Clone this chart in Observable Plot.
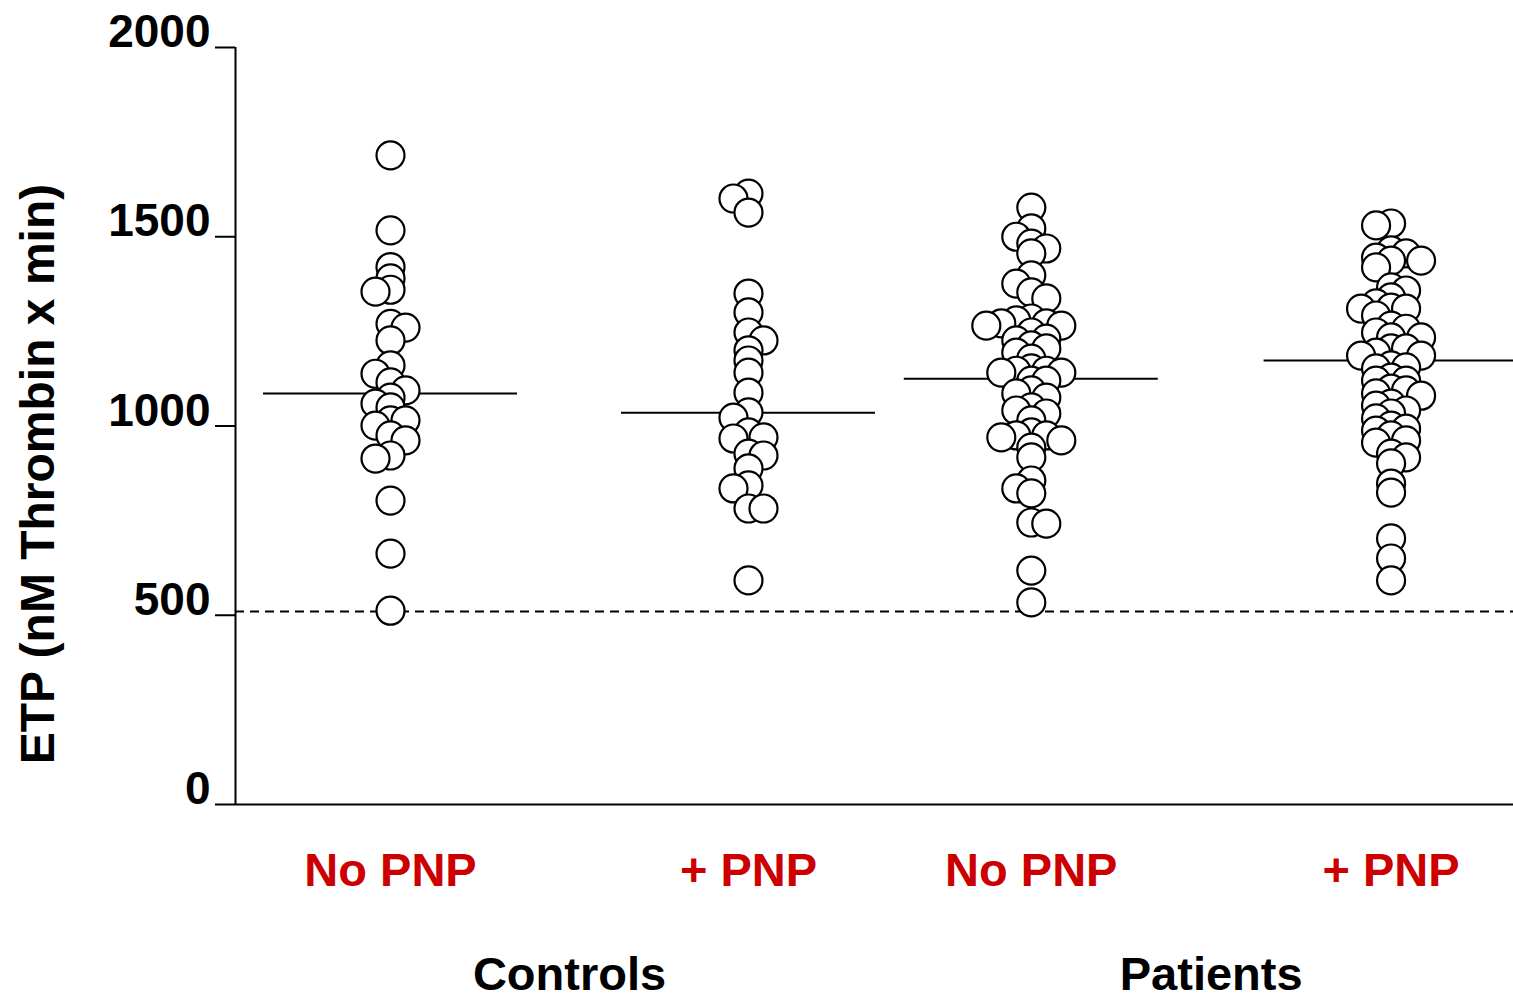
<!DOCTYPE html>
<html>
<head>
<meta charset="utf-8">
<script src="https://cdn.jsdelivr.net/npm/d3@7"></script>
<script src="https://cdn.jsdelivr.net/npm/@observablehq/plot@0.6"></script>
<style>
  html, body { margin: 0; padding: 0; background: #fff; }
</style>
</head>
<body>
<div id="chart"></div>
<script>
// ---- Data ----
const groupNames = ["Controls", "Controls", "Patients", "Patients"];
const conditionLabels = ["No PNP", "+ PNP", "No PNP", "+ PNP"];
const groupPositions = [1, 2, 2.79, 3.795];
const meanValues = [1086, 1035, 1125, 1173];
const referenceLine = 510;
const yTicks = [0, 500, 1000, 1500, 2000];

const controlsNoPNP = [1715, 1517, 1420, 1390, 1360, 1355, 1270, 1260, 1226, 1160, 1138, 1115, 1094, 1075, 1059, 1049, 1015, 1015, 1001, 975, 962, 922, 914, 803, 663, 512];
const controlsPNP = [1614, 1601, 1564, 1350, 1300, 1247, 1226, 1200, 1173, 1141, 1088, 1036, 1022, 983, 970, 967, 927, 922, 888, 843, 835, 782, 782, 592];
const patientsNoPNP = [1577, 1522, 1500, 1482, 1469, 1456, 1398, 1376, 1353, 1337, 1284, 1279, 1271, 1271, 1265, 1265, 1247, 1231, 1226, 1213, 1205, 1194, 1178, 1152, 1146, 1146, 1141, 1141, 1120, 1120, 1094, 1086, 1075, 1049, 1041, 1033, 1015, 983, 975, 975, 970, 962, 943, 917, 856, 835, 822, 745, 742, 618, 534];
const patientsPNP = [1535, 1530, 1464, 1456, 1445, 1437, 1437, 1419, 1366, 1358, 1340, 1324, 1313, 1310, 1310, 1292, 1265, 1257, 1247, 1234, 1234, 1205, 1205, 1194, 1186, 1186, 1160, 1155, 1152, 1128, 1120, 1120, 1099, 1094, 1086, 1080, 1059, 1054, 1041, 1033, 1020, 1001, 993, 988, 975, 962, 956, 927, 917, 901, 848, 824, 703, 650, 592];
const seriesValues = [controlsNoPNP, controlsPNP, patientsNoPNP, patientsPNP];

// ---- Layout ----
const W = 1513, H = 1002;
const mL = 235, mR = 0, mT = 47, mB = 198;
const xDomain = [0.567, 4.137];
const yDomain = [0, 2000];
const pxPerX = (W - mL - mR) / (xDomain[1] - xDomain[0]);
const pxPerY = (H - mT - mB) / (yDomain[1] - yDomain[0]);
const colStepPx = 15;
const minGapPx = 9;
const meanHalfWidth = 127 / pxPerX;

// column-scatter layout: spread points sharing a value band into side columns
const points = [];
seriesValues.forEach((vals, gi) => {
  const placed = [];
  const sorted = vals.slice().sort((a, b) => b - a);
  let leftCount = 0, rightCount = 0;
  for (const v of sorted) {
    const free = (k) => !placed.some(p => p.k === k && Math.abs(p.v - v) * pxPerY < minGapPx);
    let chosen = null;
    if (free(0)) chosen = 0;
    for (let m = 1; chosen === null && m < 12; m++) {
      const order = leftCount <= rightCount ? [-m, m] : [m, -m];
      for (const k of order) { if (free(k)) { chosen = k; break; } }
    }
    if (chosen < 0) leftCount++; else if (chosen > 0) rightCount++;
    placed.push({v, k: chosen});
    points.push({
      group: gi,
      value: v,
      x: groupPositions[gi] + chosen * colStepPx / pxPerX
    });
  }
});

const groupRows = groupPositions.map((p, i) => ({pos: p, mean: meanValues[i], cond: conditionLabels[i], group: groupNames[i]}));
const groupLabelRows = Array.from(d3.group(groupRows, d => d.group), ([name, rows]) => ({
  name, pos: d3.mean(rows, r => r.pos)
}));

const font = "Liberation Sans, Arial, Helvetica, sans-serif";

const chart = Plot.plot({
  width: W,
  height: H,
  marginLeft: mL,
  marginRight: mR,
  marginTop: mT,
  marginBottom: mB,
  style: {fontFamily: font, background: "#fff", color: "#000", overflow: "visible"},
  x: {domain: xDomain, axis: null},
  y: {domain: yDomain, axis: null},
  marks: [
    Plot.ruleY([referenceLine], {stroke: "#000", strokeWidth: 2, strokeDasharray: "9,6"}),
    Plot.ruleY(groupRows, {x1: d => d.pos - meanHalfWidth, x2: d => d.pos + meanHalfWidth, y: "mean", stroke: "#000", strokeWidth: 2}),
    Plot.dot(points, {x: "x", y: "value", r: 14, fill: "#fff", stroke: "#000", strokeWidth: 2.2}),
    Plot.ruleX([xDomain[0]], {y1: yDomain[0], y2: yDomain[1], stroke: "#000", strokeWidth: 2}),
    Plot.ruleY([0], {stroke: "#000", strokeWidth: 2}),
    Plot.axisY(yTicks, {tickSize: 20, strokeWidth: 2, fill: "none", label: null}),
    Plot.axisY(yTicks, {tickSize: 20, tickPadding: 5, stroke: "none", fontSize: 46, fontWeight: "bold", dy: -15, label: null, tickFormat: d => String(d)}),
    Plot.text(groupRows, {x: "pos", frameAnchor: "bottom", dy: 81, text: "cond", fill: "#cc0000", fontSize: 47, fontWeight: "bold"}),
    Plot.text(groupLabelRows, {x: "pos", frameAnchor: "bottom", dy: 185, text: "name", fill: "#000", fontSize: 47, fontWeight: "bold"}),
    Plot.text(["ETP (nM Thrombin x min)"], {frameAnchor: "left", textAnchor: "middle", rotate: -90, dx: -197, dy: 48, fill: "#000", fontSize: 48, fontWeight: "bold"})
  ]
});
document.getElementById("chart").appendChild(chart);
</script>
</body>
</html>
